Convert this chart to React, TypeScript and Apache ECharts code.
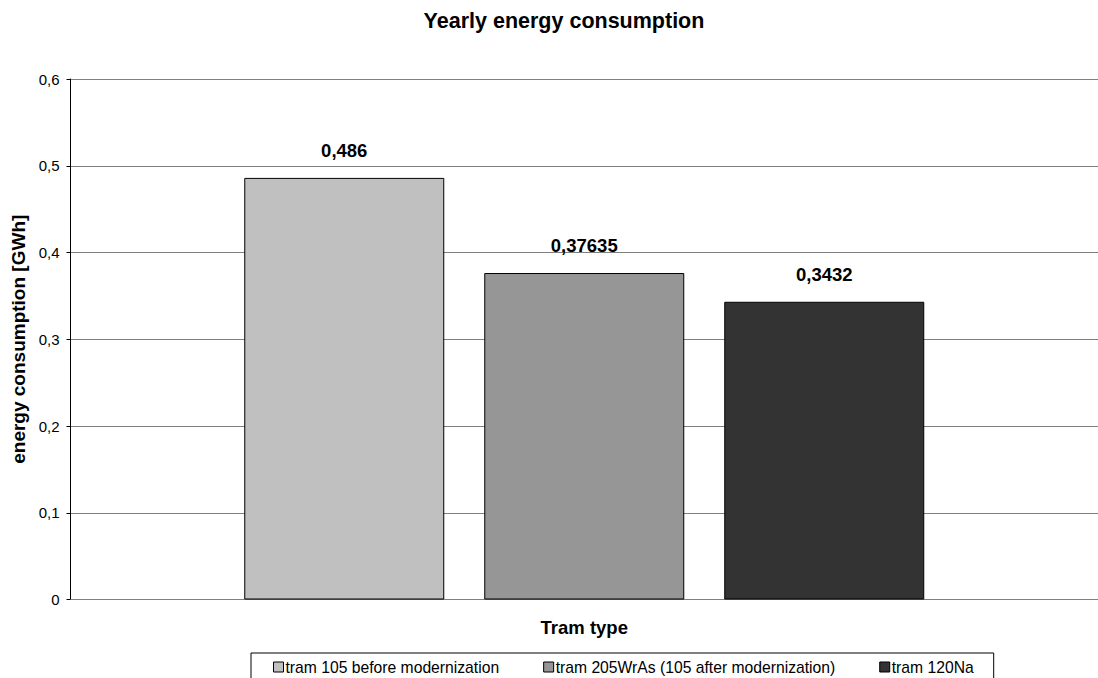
import React, { useEffect, useRef } from "react";
import * as echarts from "echarts";

const categories = ["Tram type"];
const seriesNames = [
  "tram 105 before modernization",
  "tram 205WrAs (105 after modernization)",
  "tram 120Na",
];
const seriesValues = [0.486, 0.37635, 0.3432];
const seriesColors = ["#C0C0C0", "#969696", "#333333"];
const yTicks = { min: 0, max: 0.6, interval: 0.1 };

const fmt = (v: number) => String(v).replace(".", ",");

export default function App() {
  const ref = useRef<HTMLDivElement>(null);
  useEffect(() => {
    if (!ref.current) return;
    const chart = echarts.init(ref.current, null, { renderer: "svg" });
    const font = "'Liberation Sans', Arial, sans-serif";
    chart.setOption({
      animation: false,
      backgroundColor: "#ffffff",
      textStyle: { fontFamily: font },
      title: {
        text: "Yearly energy consumption",
        left: 559,
        textAlign: "center",
        top: 5,
        textStyle: { fontFamily: font, fontSize: 21.5, fontWeight: "bold", color: "#000" },
      },
      grid: { left: 70.5, right: -12, top: 79, bottom: 78.5, containLabel: false },
      legend: {
        data: seriesNames,
        left: 251,
        top: 653,
        orient: "horizontal",
        itemWidth: 10,
        itemHeight: 10,
        itemGap: 44,
        borderColor: "#000",
        borderWidth: 1,
        padding: [6, 20, 14, 22],
        icon: "rect",
        itemStyle: { borderColor: "#000", borderWidth: 1 },
        textStyle: { fontFamily: font, fontSize: 15.7, color: "#000", padding: [0, 0, 0, -3] },
        selectedMode: false,
      },
      xAxis: {
        type: "category",
        data: categories,
        name: "Tram type",
        nameLocation: "middle",
        nameGap: 18,
        nameTextStyle: { fontFamily: font, fontSize: 18.5, fontWeight: "bold", color: "#000" },
        axisLabel: { show: false },
        axisTick: { show: false },
        axisLine: { lineStyle: { color: "#808080", width: 1 } },
      },
      yAxis: {
        type: "value",
        min: yTicks.min,
        max: yTicks.max,
        interval: yTicks.interval,
        name: "energy consumption [GWh]",
        nameLocation: "middle",
        nameGap: 43,
        nameTextStyle: { fontFamily: font, fontSize: 19, fontWeight: "bold", color: "#000" },
        axisLine: { show: true, lineStyle: { color: "#000", width: 1 } },
        axisTick: { show: true, length: 4, lineStyle: { color: "#000" } },
        axisLabel: {
          fontFamily: font,
          fontSize: 15,
          color: "#000",
          margin: 11,
          formatter: (v: number) => fmt(Math.round(v * 10) / 10),
        },
        splitLine: { show: true, lineStyle: { color: "#808080", width: 1 } },
      },
      series: seriesNames.map((name, i) => ({
        name,
        type: "bar",
        data: [seriesValues[i]],
        barWidth: 200,
        barGap: "20%",
        itemStyle: { color: seriesColors[i], borderColor: "#000", borderWidth: 1 },
        label: {
          show: true,
          position: "top",
          distance: 18,
          fontFamily: font,
          fontSize: 18.5,
          fontWeight: "bold",
          color: "#000",
          formatter: (p: any) => fmt(p.value),
        },
      })),
    });
    return () => chart.dispose();
  }, []);
  return (
    <div
      ref={ref}
      style={{ position: "absolute", left: 0, top: 0, width: 1098, height: 678 }}
    />
  );
}
